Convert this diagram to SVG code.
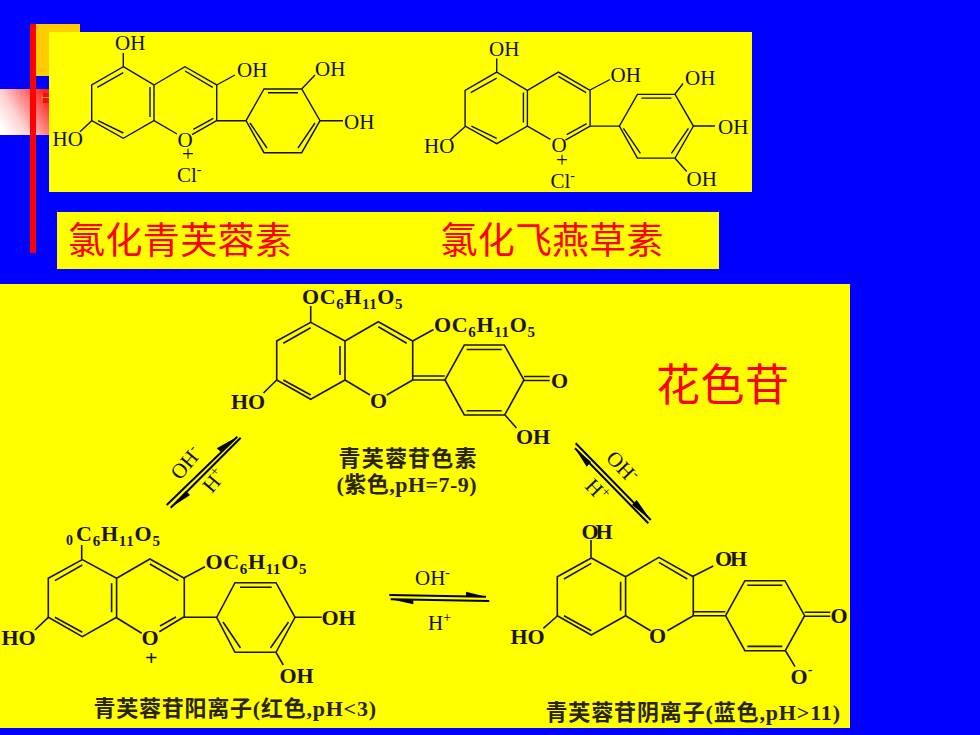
<svg xmlns="http://www.w3.org/2000/svg" width="980" height="735" viewBox="0 0 980 735">
<style>
.bond{fill:none;stroke:#111;stroke-width:1.4}
.bold{fill:none;stroke:#1a1400;stroke-width:1.6}
.arrow{fill:none;stroke:#000;stroke-width:2}
.head{fill:#000;stroke:none}
text{font-family:"Liberation Serif","Noto Sans CJK SC",serif;fill:#111}
.r{font-size:21px}
.b{font-size:22px;font-weight:bold;fill:#1a1400}
.s{font-size:15px}
.cap{font-size:22px;font-weight:bold;fill:#2a2400}
.red{font-family:"Noto Sans CJK SC",sans-serif;fill:#f00;font-weight:400}
.sup{font-size:14px}
</style>
<defs>
<linearGradient id="fade" x1="0" y1="0.8" x2="1" y2="0.2">
<stop offset="0" stop-color="#fff"/><stop offset="0.35" stop-color="#ffd0d0"/><stop offset="1" stop-color="#ff2020"/>
</linearGradient>
<g id="flav">
<path d="M123.3 66.7L154 85V120.7L123.3 138.3L91.7 120.7V85ZM154 85L185 66.7L216.7 85V120.7M154 120.7L177 134M216.7 120.7L192 134.7M97.3 87.3L123.3 72.7M150 87V117M98 120.7L123.3 133M185 71L212.7 87.3M193.3 129.3L213.3 118.3"/>
<path d="M216.7 120.7H246L264 89H301.7L320 120.7L301.7 152.7H264L246 120.7M268 92.7H298M315 123L298 148M250 123L267 148"/>
</g>
<g id="chrom">
<path d="M0 0L34 -18.7L68.3 0V39L34 58.3L0 39ZM68.3 0L101.6 -19.3L136 0V39M6.6 2.3L34 -13.3M63.3 5V34M6.6 39L34 54M101.6 -14.3L130 2.3"/>
</g>
<g id="quin">
<path d="M68.3 39L93.3 54M136 39L110 54M136 35H168M136 39H168.3L187.6 4H227.6L247.3 39L228 74H187.6L168.3 39M190 8.5H225M190 69.7H225M247.3 35.5H273M247.3 39.5H273"/>
</g>
</defs>

<rect width="980" height="735" fill="#0000ff"/>
<g id="decor">
<rect x="0" y="89" width="49" height="46" fill="url(#fade)"/>
<rect x="36" y="24" width="44" height="52" fill="#ffcc00"/>
<rect x="30" y="24" width="6" height="229" fill="#ff0000"/>
<rect x="41" y="93" width="8" height="10" fill="#f01010"/>
<path d="M42 93V103M41 97.5H49" stroke="#ff9040" stroke-width="1" fill="none"/>
<rect x="49" y="32" width="703" height="160" fill="#ffff00"/>
<rect x="57" y="212" width="662" height="57" fill="#ffff00"/>
<rect x="0" y="284" width="850" height="444" fill="#ffff00"/>
</g>

<g id="cyanidin-chloride">
<use href="#flav" class="bond"/>
<path class="bond" d="M123.3 66.7V53M216.7 85L235 75M301.7 89L315 75M320 120.7H343M91.7 120.7L80 131.7"/>
<text class="r" x="115" y="50">OH</text>
<text class="r" x="237" y="77">OH</text>
<text class="r" x="315" y="76">OH</text>
<text class="r" x="344" y="128.5">OH</text>
<text class="r" x="52.5" y="146">HO</text>
<text class="r" x="177.5" y="146.5">O</text>
<text class="r" x="182" y="160.5">+</text>
<text class="r" x="177" y="182">Cl<tspan class="sup" dy="-8">-</tspan></text>
</g>

<g id="delphinidin-chloride">
<use href="#flav" class="bond" transform="translate(373.4 5.4)"/>
<path class="bond" d="M496.7 72V58.5M590 90L610 79.5M675 94L683 83.5M693.3 126H715M675 158.3L686.7 171.5M465 126.7L450 140"/>
<text class="r" x="489" y="55.5">OH</text>
<text class="r" x="610.5" y="81.5">OH</text>
<text class="r" x="685" y="84.5">OH</text>
<text class="r" x="718" y="134">OH</text>
<text class="r" x="686.5" y="185.5">OH</text>
<text class="r" x="424" y="152.5">HO</text>
<text class="r" x="551.5" y="152">O</text>
<text class="r" x="556" y="166.5">+</text>
<text class="r" x="550.5" y="187.5">Cl<tspan class="sup" dy="-8">-</tspan></text>
</g>

<g id="label-cyanidin-chloride"><text class="red" x="68" y="254" font-size="37" textLength="224">氯化青芙蓉素</text></g>
<g id="label-delphinidin-chloride"><text class="red" x="440.5" y="254" font-size="37" textLength="223">氯化飞燕草素</text></g>
<g id="label-glycoside"><text class="red" x="656" y="401" font-size="44" textLength="133">花色苷</text></g>

<g id="quinoidal-base">
<use href="#chrom" class="bold" transform="translate(276.7 341)"/>
<use href="#quin" class="bold" transform="translate(276.7 341)"/>
<path class="bold" d="M310.7 322.3V306M412.7 341L433.5 329.5M276.7 380L263.5 393M505 415L516.5 428"/>
<text class="b" x="302" y="303.5" textLength="100.5">OC<tspan class="s" dy="5">6</tspan><tspan dy="-5">H</tspan><tspan class="s" dy="5">11</tspan><tspan dy="-5">O</tspan><tspan class="s" dy="5">5</tspan></text>
<text class="b" x="434" y="331.5" textLength="101">OC<tspan class="s" dy="5">6</tspan><tspan dy="-5">H</tspan><tspan class="s" dy="5">11</tspan><tspan dy="-5">O</tspan><tspan class="s" dy="5">5</tspan></text>
<text class="b" x="516" y="444">OH</text>
<text class="b" x="231" y="408.5">HO</text>
<text class="b" x="370" y="407.5">O</text>
<text class="b" x="551" y="388">O</text>
<text class="cap" x="338.5" y="466" textLength="138">青芙蓉苷色素</text>
<text class="cap" x="336.5" y="492" textLength="140">(紫色,pH=7-9)</text>
</g>

<g id="flavylium-cation">
<use href="#chrom" class="bold" transform="translate(48.3 578.3)"/>
<path class="bold" d="M115.7 617.3L141.7 633.3M183.3 617.3L159.3 631.7M160 626L176 617M183.3 617.3H216.7L235 582.7H276L295 617.3L276 652.3H235L216.7 617.3M240 587.3H271.7M288.5 622L270.5 648M223 622L240.5 648M81.7 559.3V545M183.3 578.3L205 566.7M48.3 617.3L35 630M295 617.3H321.7M276 652.3L283.3 665"/>
<text class="b" x="66" y="545" style="font-size:14px">0</text>
<text class="b" x="76" y="541" textLength="84">C<tspan class="s" dy="5">6</tspan><tspan dy="-5">H</tspan><tspan class="s" dy="5">11</tspan><tspan dy="-5">O</tspan><tspan class="s" dy="5">5</tspan></text>
<text class="b" x="205.5" y="568.5" textLength="101">OC<tspan class="s" dy="5">6</tspan><tspan dy="-5">H</tspan><tspan class="s" dy="5">11</tspan><tspan dy="-5">O</tspan><tspan class="s" dy="5">5</tspan></text>
<text class="b" x="321.5" y="625">OH</text>
<text class="b" x="279.5" y="682.5">OH</text>
<text class="b" x="1.5" y="645">HO</text>
<text class="b" x="141.5" y="645">O</text>
<text class="b" x="145" y="665">+</text>
<text class="cap" x="93.5" y="716" textLength="282.5">青芙蓉苷阳离子(红色,pH&lt;3)</text>
</g>

<g id="quinoidal-anion">
<use href="#chrom" class="bold" transform="translate(557.3 576.7)"/>
<use href="#quin" class="bold" transform="translate(557.3 576.7)"/>
<path class="bold" d="M591 557.3V540M692 576.7L713.3 566M557.3 616L543.3 628.3M785 650L795 666.7"/>
<text class="b" x="581.5" y="538.5" textLength="31">OH</text>
<text class="b" x="715" y="565.5" textLength="32">OH</text>
<text class="b" x="510.5" y="643.5">HO</text>
<text class="b" x="649" y="642.5">O</text>
<text class="b" x="830.5" y="622.5">O</text>
<text class="b" x="790.5" y="684">O<tspan class="sup" dy="-10">-</tspan></text>
<text class="cap" x="545.5" y="720" textLength="294.5">青芙蓉苷阴离子(蓝色,pH&gt;11)</text>
</g>

<g id="connectors">
<path class="arrow" d="M166.7 505L237.3 436.7M170.7 507.7L240.7 437.7"/>
<path class="head" d="M237.3 436.7L216.7 448.3L221 452Z"/>
<path class="head" d="M170.7 507.7L190 495L186 491Z"/>
<path class="arrow" d="M575.7 443.3L650.7 520M575 448.3L648.3 523.3"/>
<path class="head" d="M650.7 520L636.7 500L632 505Z"/>
<path class="head" d="M575 448.3L586.7 466.7L591 462Z"/>
<path class="arrow" d="M389.3 595L486 596.7M390.7 599.3L489.3 601"/>
<path class="head" d="M486 596.7L466 591.7V596.3Z"/>
<path class="head" d="M390.7 599.3L413.3 604.3V599.7Z"/>
</g>

<g id="connector-labels">
<text class="r" transform="translate(180 481) rotate(-50)">OH<tspan class="sup" dy="-8">-</tspan></text>
<text class="r" transform="translate(212 494) rotate(-50)">H<tspan class="sup" dy="-8">+</tspan></text>
<text class="r" transform="translate(605 459) rotate(46)">OH<tspan class="sup" dy="-8">-</tspan></text>
<text class="r" transform="translate(584 487) rotate(46)">H<tspan class="sup" dy="-8">+</tspan></text>
<text class="r" x="415" y="585">OH<tspan class="sup" dy="-8">-</tspan></text>
<text class="r" x="428" y="630">H<tspan class="sup" dy="-8">+</tspan></text>
</g>
</svg>
